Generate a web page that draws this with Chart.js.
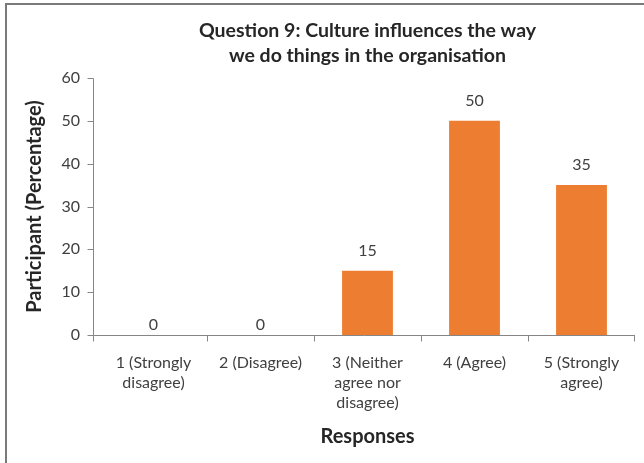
<!DOCTYPE html>
<html>
<head>
<meta charset="utf-8">
<script src="https://cdn.jsdelivr.net/npm/chart.js@4/dist/chart.umd.min.js"></script>
<style>
  html, body { margin: 0; padding: 0; background: #fff; }
  #wrap { position: relative; width: 644px; height: 463px; overflow: hidden; }
  #frame { position: absolute; left: 5px; top: 3px; width: 700px; height: 500px;
           border-left: 2px solid #7a7a7a; border-top: 2px solid #7a7a7a; }
  canvas { position: absolute; left: 0; top: 0; }
</style>
</head>
<body>
<div id="wrap">
  <div id="frame"></div>
  <canvas id="chart" width="644" height="463"></canvas>
</div>
<script>
// Antworten (Kategorien), Prozentwerte und Achsenteilung
const categories = [
  ["1 (Strongly", "disagree)"],
  "2 (Disagree)",
  ["3 (Neither", "agree nor", "disagree)"],
  "4 (Agree)",
  ["5 (Strongly", "agree)"]
];
const percentages = [0, 0, 15, 50, 35];
const yTicks = [0, 10, 20, 30, 40, 50, 60];

const FONT = "Lato, 'Open Sans', sans-serif";
const AXIS_COLOR = "#868686";
const TEXT = "#404040";

// Achsenlinien im Excel-Stil: y-Achse etwas links vom ersten Slot, Ticks nach außen
const axisLines = {
  id: "axisLines",
  afterDatasetsDraw(chart) {
    const { ctx, chartArea, scales: { x, y } } = chart;
    const ax = Math.round(chartArea.left - 7) + 0.5;
    const y0 = Math.round(y.getPixelForValue(0)) + 0.5;
    const yTop = Math.round(y.getPixelForValue(yTicks[yTicks.length - 1])) + 0.5;

    ctx.save();
    ctx.strokeStyle = AXIS_COLOR;
    ctx.lineWidth = 1;
    ctx.beginPath();
    ctx.moveTo(ax, yTop);
    ctx.lineTo(ax, y0);
    yTicks.forEach(v => {
      const py = Math.round(y.getPixelForValue(v)) + 0.5;
      ctx.moveTo(ax - 6, py);
      ctx.lineTo(ax, py);
    });
    ctx.moveTo(ax, y0);
    ctx.lineTo(chartArea.right, y0);

    // Ticks an den Slot-Grenzen
    const edges = [ax];
    for (let i = 0; i < categories.length - 1; i++) {
      edges.push(Math.round((x.getPixelForValue(i) + x.getPixelForValue(i + 1)) / 2) + 0.5);
    }
    edges.push(Math.round(chartArea.right) - 0.5);
    edges.forEach(px => {
      ctx.moveTo(px, y0);
      ctx.lineTo(px, y0 + 6);
    });
    ctx.stroke();
    ctx.restore();
  }
};

// Werte über den Balken
const valueLabels = {
  id: "valueLabels",
  afterDatasetsDraw(chart) {
    const { ctx } = chart;
    const meta = chart.getDatasetMeta(0);
    ctx.save();
    ctx.font = "16px " + FONT;
    ctx.fillStyle = TEXT;
    ctx.textAlign = "center";
    ctx.textBaseline = "bottom";
    meta.data.forEach((bar, i) => {
      const v = percentages[i];
      const gap = v > 0 ? 12 : 2;
      ctx.fillText(String(v), bar.x, bar.y - gap);
    });
    ctx.restore();
  }
};

new Chart(document.getElementById("chart"), {
  type: "bar",
  data: {
    labels: categories,
    datasets: [{
      data: percentages,
      backgroundColor: "#ED7D31",
      borderWidth: 0,
      categoryPercentage: 1,
      barPercentage: 0.475
    }]
  },
  options: {
    responsive: false,
    animation: false,
    devicePixelRatio: 1,
    layout: { padding: { left: 0, right: 9, top: 0, bottom: 0 } },
    plugins: {
      legend: { display: false },
      tooltip: { enabled: false },
      title: {
        display: true,
        fullSize: false, // über dem Plotbereich zentriert
        text: ["Question 9: Culture influences the way", "we do things in the organisation"],
        color: "#262626",
        font: { family: FONT, size: 19.5, weight: "bold", lineHeight: "25px" },
        padding: { top: 18, bottom: 10 }
      }
    },
    scales: {
      x: {
        offset: true,
        grid: { display: false },
        border: { display: false },
        ticks: {
          color: TEXT,
          font: { family: FONT, size: 16, lineHeight: "20px" },
          padding: 10,
          maxRotation: 0,
          autoSkip: false
        },
        title: {
          display: true,
          text: "Responses",
          color: "#262626",
          font: { family: FONT, size: 20, weight: "bold" },
          padding: { top: 0, bottom: 14 }
        },
        afterFit(scale) { scale.height = 128; }
      },
      y: {
        min: 0,
        max: 60,
        grid: { display: false, drawTicks: false },
        border: { display: false },
        ticks: {
          stepSize: 10,
          color: TEXT,
          font: { family: FONT, size: 16 },
          padding: 20
        },
        title: {
          display: true,
          text: "Participant (Percentage)",
          color: "#262626",
          font: { family: FONT, size: 20, weight: "bold" },
          padding: { top: 23, bottom: 0 }
        },
        afterFit(scale) { scale.width = 100; }
      }
    }
  },
  plugins: [axisLines, valueLabels]
});
</script>
</body>
</html>
